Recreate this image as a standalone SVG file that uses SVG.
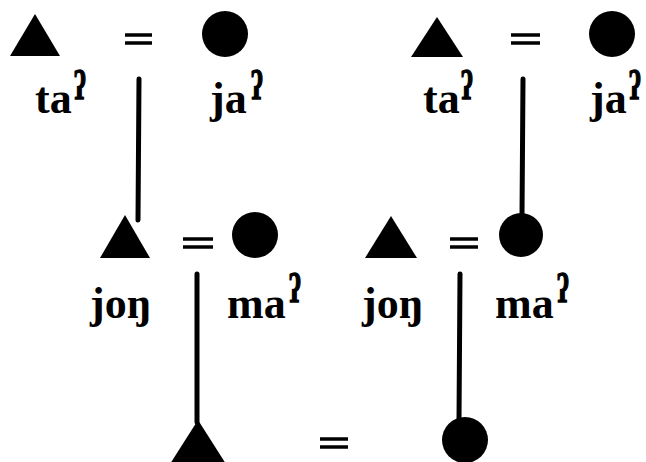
<svg xmlns="http://www.w3.org/2000/svg" width="646" height="462" viewBox="0 0 646 462">
<style>
.n{fill:#000}
.t{font-family:"Liberation Serif","DejaVu Serif",serif;font-weight:bold;font-size:44px;fill:#000}
.s{font-family:"Liberation Serif","DejaVu Serif",serif;font-weight:bold;font-size:40px;fill:#000;stroke:#000;stroke-width:1.5}
.l{stroke:#000;stroke-width:5;fill:none;stroke-linecap:round}
.eq{stroke:#000;stroke-width:3.5}
</style>
<rect width="646" height="462" fill="#fff"/>
<g id="connectors">
<line class="l" x1="139" y1="79" x2="138" y2="220"/>
<line class="l" x1="523" y1="79" x2="522" y2="215"/>
<line class="l" x1="197" y1="274" x2="197" y2="422"/>
<line class="l" x1="460" y1="274" x2="459" y2="420"/>
</g>
<g id="eq1"><line class="eq" x1="125" y1="35" x2="152" y2="35"/><line class="eq" x1="125" y1="43" x2="152" y2="43"/></g>
<g id="eq2"><line class="eq" x1="511" y1="35" x2="540" y2="35"/><line class="eq" x1="511" y1="43" x2="540" y2="43"/></g>
<g id="eq3"><line class="eq" x1="183" y1="239" x2="213" y2="239"/><line class="eq" x1="183" y1="247" x2="213" y2="247"/></g>
<g id="eq4"><line class="eq" x1="450" y1="239" x2="478" y2="239"/><line class="eq" x1="450" y1="247" x2="478" y2="247"/></g>
<g id="eq5"><line class="eq" x1="320" y1="439" x2="348" y2="439"/><line class="eq" x1="320" y1="447" x2="348" y2="447"/></g>
<g id="m1"><polygon class="n" points="35,14 10,56 60,56"/><text class="t" x="35" y="113">ta</text><text class="s" transform="translate(74,99) scale(0.65,1)">ʔ</text></g>
<g id="f1"><circle class="n" cx="225" cy="34" r="23"/><text class="t" x="210" y="113">ja</text><text class="s" transform="translate(251,99) scale(0.65,1)">ʔ</text></g>
<g id="m2"><polygon class="n" points="437,17 411,57 463,57"/><text class="t" x="423" y="113">ta</text><text class="s" transform="translate(461,99) scale(0.65,1)">ʔ</text></g>
<g id="f2"><circle class="n" cx="612" cy="34" r="23"/><text class="t" x="590" y="113">ja</text><text class="s" transform="translate(629,99) scale(0.65,1)">ʔ</text></g>
<g id="m3"><polygon class="n" points="125,215 100,258 150,258"/><text class="t" x="90" y="318">joŋ</text></g>
<g id="f3"><circle class="n" cx="255" cy="235" r="23"/><text class="t" x="227" y="318">ma</text><text class="s" transform="translate(289,302) scale(0.65,1)">ʔ</text></g>
<g id="m4"><polygon class="n" points="391,216 365,258 417,258"/><text class="t" x="362" y="318">joŋ</text></g>
<g id="f4"><circle class="n" cx="521" cy="235" r="22"/><text class="t" x="495" y="318">ma</text><text class="s" transform="translate(557,302) scale(0.65,1)">ʔ</text></g>
<g id="m5"><polygon class="n" points="198,420 170,464 226,464"/></g>
<g id="f5"><circle class="n" cx="465" cy="440" r="23"/></g>
</svg>
